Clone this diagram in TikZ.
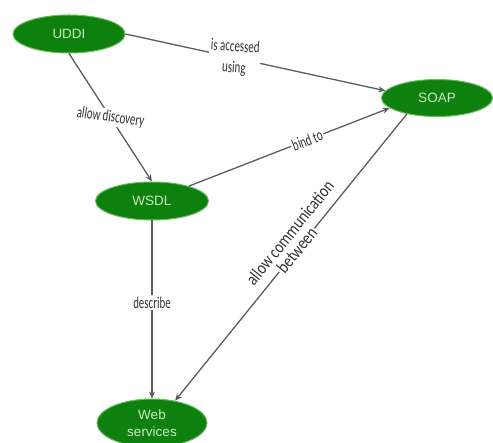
\documentclass[tikz,border=0pt]{standalone}
\usepackage{fontspec}
\setmainfont{Liberation Sans}
\newfontfamily\lblfont[FakeStretch=0.66]{Carlito}
\newfontfamily\widefont[FakeStretch=0.82]{Carlito}
\usepackage{tikz}
\usetikzlibrary{
  arrows.meta,
  shapes.geometric,
  positioning
}
\usepackage{xcolor}
\definecolor{dgreen}{RGB}{14,128,14}
\definecolor{rgreen}{RGB}{105,185,95}
\definecolor{tgreen}{RGB}{200,236,190}
\definecolor{cline}{RGB}{92,92,92}
\definecolor{ctext}{RGB}{50,50,50}
\tikzset{
  entity/.style={
    ellipse, fill=dgreen, draw=rgreen, line width=1pt,
    minimum width=112pt, minimum height=38pt, inner sep=0pt,
    font=\fontsize{13.5}{17}\selectfont, text=tgreen, align=center
  },
  lbl/.style={
    font=\lblfont\fontsize{16.5}{21}\selectfont, text=ctext,
    align=center, inner sep=1.5pt
  },
  lblbig/.style={
    lbl, font=\widefont\fontsize{18}{21}\selectfont
  },
  arr/.style={-{Stealth[length=7pt, width=6pt]}, line width=1.3pt, color=#1},
  arr/.default=cline
}

\begin{document}
\begin{tikzpicture}[x=1pt, y=-1pt]
    \useasboundingbox (0,0) rectangle (493,443);

    %% ---- Entities ---------------------------------------------------
    \node[entity] (uddi) at (69,34)  {UDDI};
    \node[entity, minimum width=111pt, minimum height=37pt]
      (soap) at (437,98) {SOAP};
    \node[entity, minimum width=113pt] (wsdl) at (152,201) {WSDL};
    \node[entity, minimum width=110pt, minimum height=48pt]
      (web) at (152,423) {Web\\services};

    %% ---- Relations --------------------------------------------------
    \draw[arr] (uddi.east) -- (soap.172)
      node[lbl, pos=0.42, fill=white, rotate=-4] {is accessed\\using};
    \draw[arr] (uddi.south) -- (wsdl.north)
      node[lbl, midway, fill=white, rotate=-8] {allow discovery};
    \draw[arr] (wsdl.22) -- (soap.192)
      node[lbl, pos=0.59, fill=white, sloped] {bind to};
    \draw[arr] (wsdl.south) -- (web.north)
      node[lbl, pos=0.46, fill=white] {describe};
    \draw[arr] (soap.208) -- (web.44)
      node[lblbig, pos=0.475, fill=white, sloped] {between}
      node[lblbig, pos=0.45, sloped, above=8pt] {allow communication};

  \end{tikzpicture}
\end{document}
